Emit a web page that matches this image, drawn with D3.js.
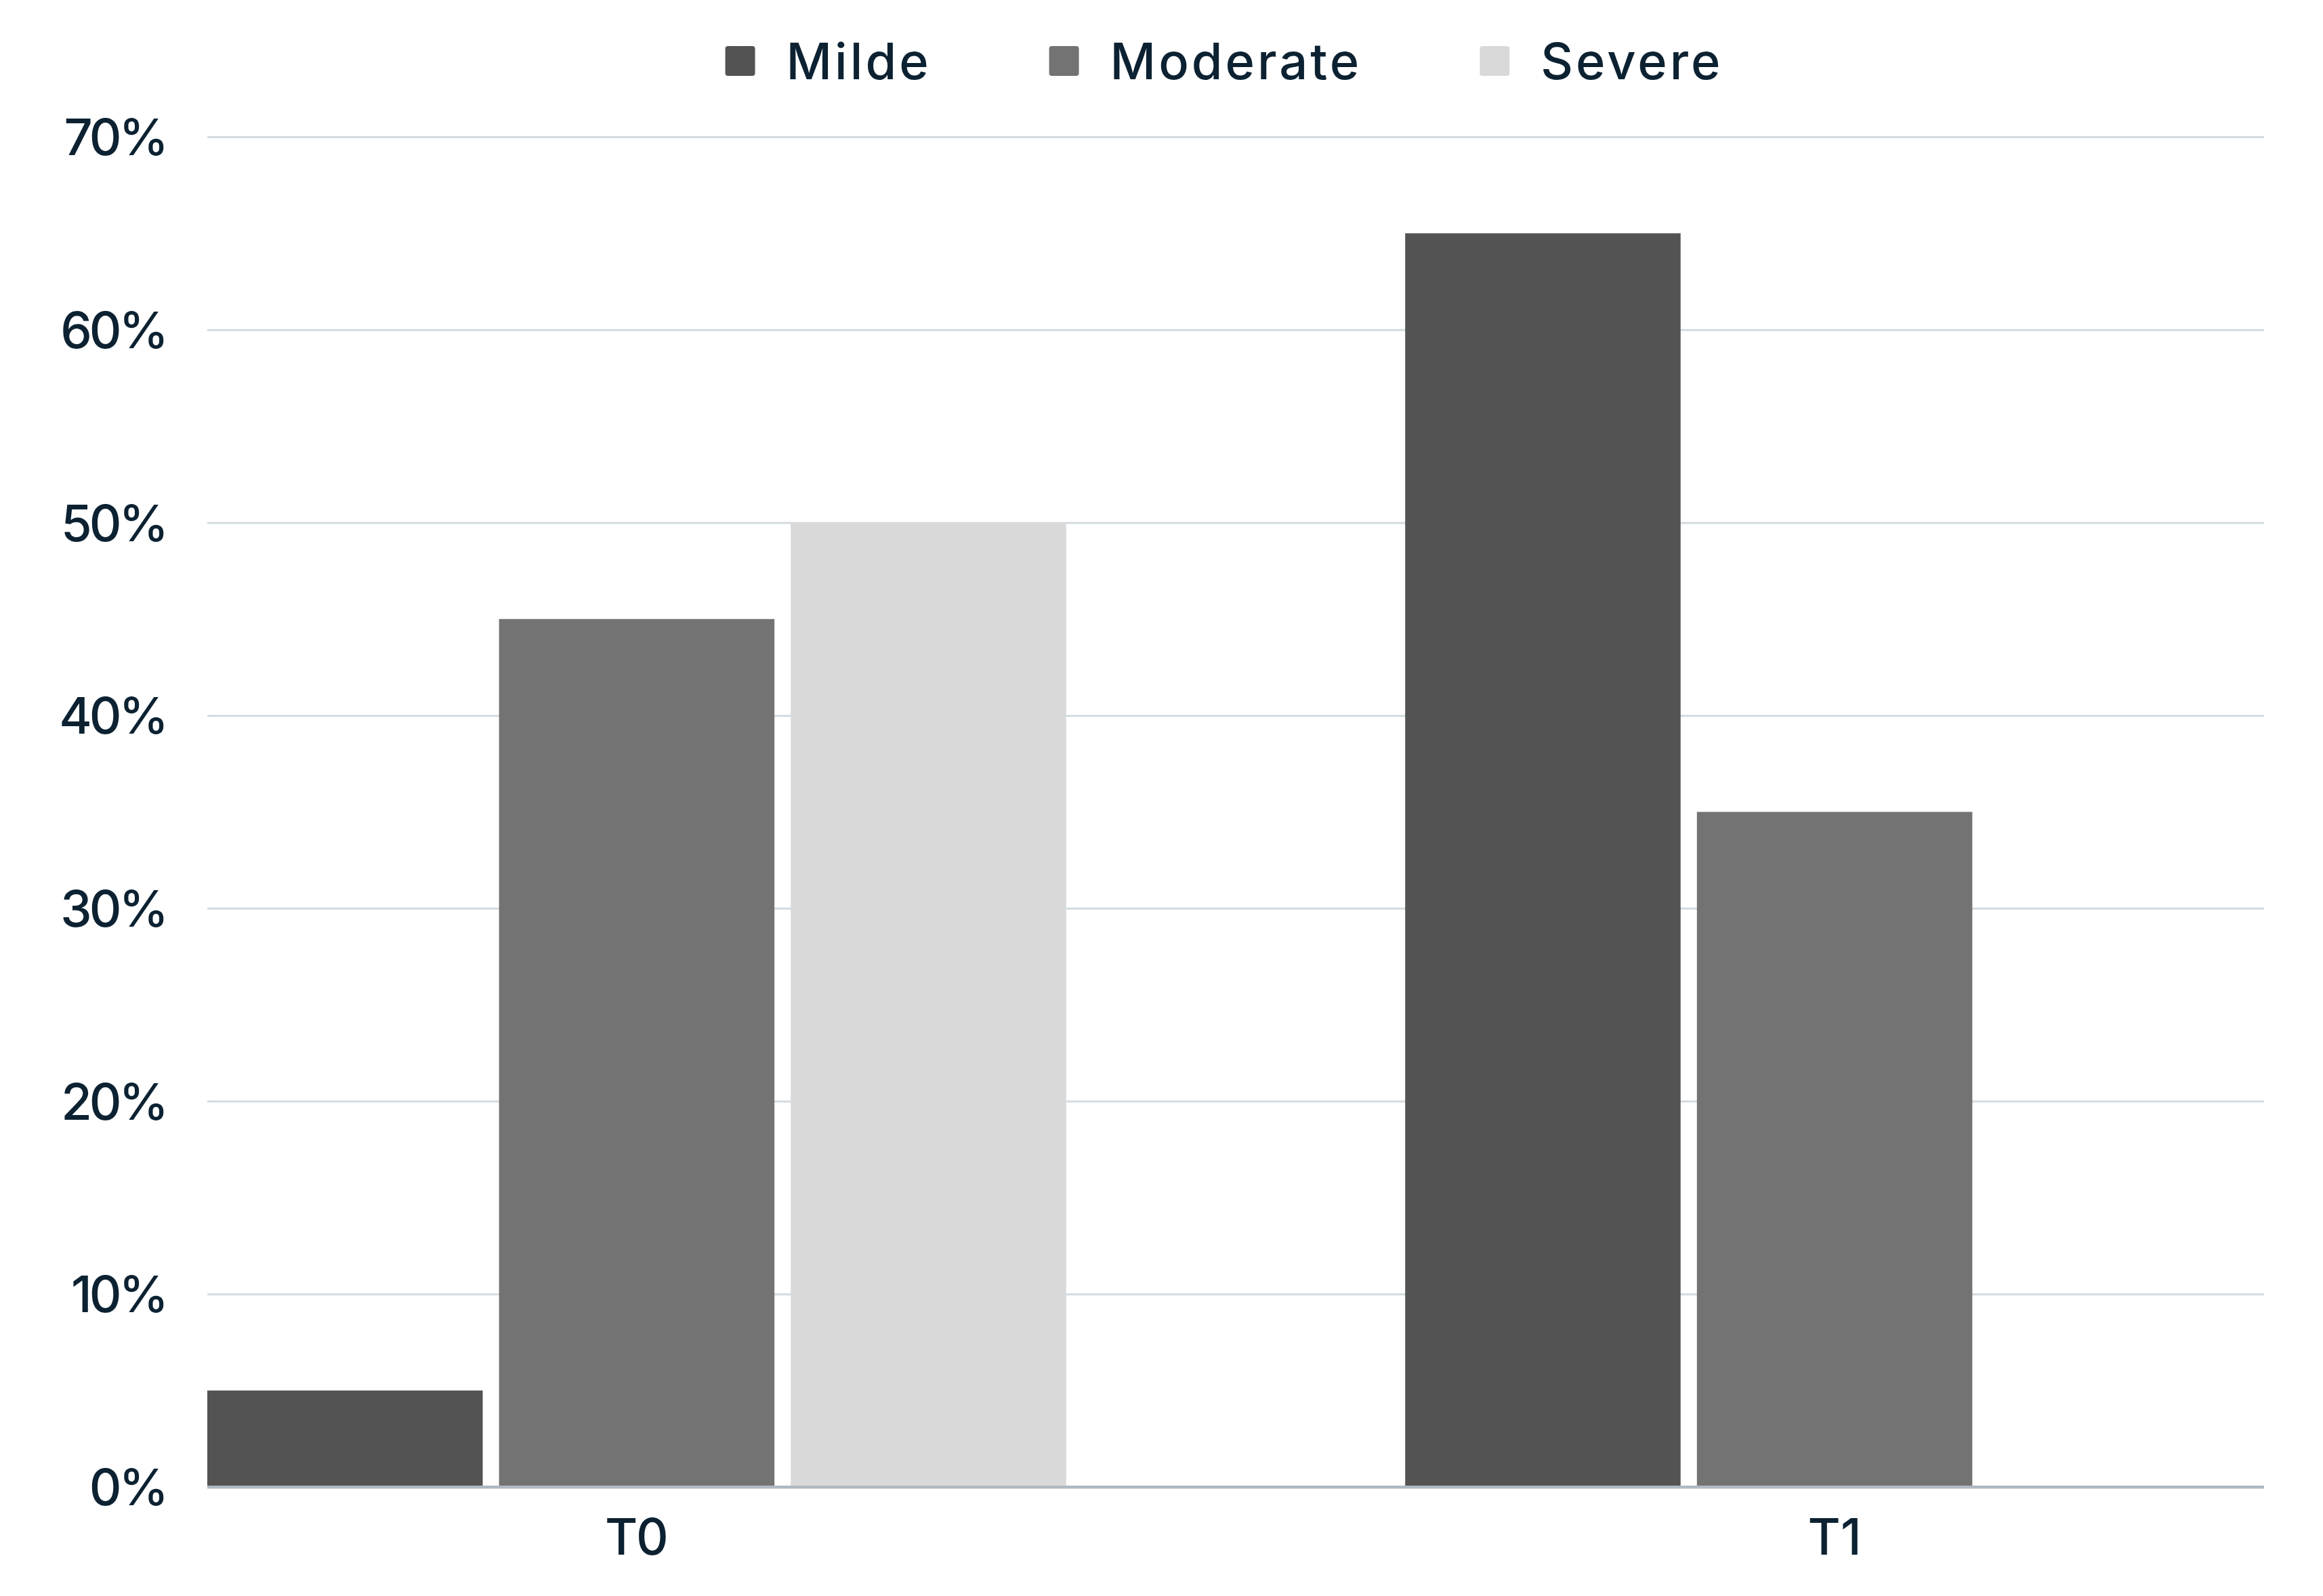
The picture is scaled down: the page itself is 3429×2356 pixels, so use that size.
<!DOCTYPE html>
<html>
<head>
<meta charset="utf-8">
<script src="https://cdn.jsdelivr.net/npm/d3@7"></script>
<style>
  html, body { margin: 0; padding: 0; background: #ffffff; }
  svg { display: block; }
  text { font-family: "Inter", "Open Sans", sans-serif; }
</style>
</head>
<body>
<svg id="chart" width="3429" height="2356"></svg>
<script>
// ---- data ----
const categories = ["T0", "T1"];
const seriesNames = ["Milde", "Moderate", "Severe"];
const milde = [5, 65];
const moderate = [45, 35];
const severe = [50, 0];
const yTicks = [0, 10, 20, 30, 40, 50, 60, 70];
const seriesColors = ["#535353", "#737373", "#d9d9d9"];

const seriesValues = [milde, moderate, severe];
const rows = categories.map((c, i) => ({
  cat: c,
  vals: seriesNames.map((s, j) => ({ series: s, value: seriesValues[j][i], idx: j }))
}));

// ---- layout ----
const plotLeft = 306, plotRight = 3342, plotTop = 202, plotBottom = 2195;
const textColor = "#0c2232";
const fontSize = 74;

const svg = d3.select("#chart");

const x0 = d3.scaleBand().domain(categories).range([plotLeft, plotRight])
  .paddingInner(0.283).paddingOuter(0);
const x1 = d3.scaleBand().domain(seriesNames).range([0, x0.bandwidth()])
  .paddingInner(0.056).paddingOuter(0);
const y = d3.scaleLinear().domain([0, 70]).range([plotBottom, plotTop]);
const color = d3.scaleOrdinal().domain(seriesNames).range(seriesColors);

// gridlines
const yAxis = d3.axisLeft(y).tickValues(yTicks).tickFormat(d => d + "%")
  .tickSize(-(plotRight - plotLeft)).tickPadding(61);
const gy = svg.append("g").attr("transform", `translate(${plotLeft},0)`).call(yAxis);
gy.select(".domain").remove();
gy.selectAll(".tick line")
  .attr("stroke", d => d === 0 ? "#aeb9c2" : "#d3dbe0")
  .attr("stroke-width", d => d === 0 ? 4 : 3);
gy.selectAll(".tick text")
  .attr("fill", textColor)
  .style("font-size", fontSize + "px")
  .style("font-weight", 500)
  .style("letter-spacing", "-4px")
  .attr("dy", "0.36em");

// bars
const groups = svg.append("g").selectAll("g").data(rows).join("g")
  .attr("transform", d => `translate(${x0(d.cat)},0)`);
groups.selectAll("rect").data(d => d.vals.filter(v => v.value > 0)).join("rect")
  .attr("x", d => x1(d.series))
  .attr("width", x1.bandwidth())
  .attr("y", d => y(d.value))
  .attr("height", d => y(0) - y(d.value))
  .attr("fill", d => color(d.series));

// redraw baseline on top
svg.append("line")
  .attr("x1", plotLeft).attr("x2", plotRight)
  .attr("y1", y(0)).attr("y2", y(0))
  .attr("stroke", "#aeb9c2").attr("stroke-width", 4);

// x axis labels
const xAxis = d3.axisBottom(x0).tickSize(0).tickPadding(0);
const gx = svg.append("g").attr("transform", `translate(0,${plotBottom})`).call(xAxis);
gx.select(".domain").remove();
gx.selectAll(".tick text")
  .attr("fill", textColor)
  .style("font-size", fontSize + "px")
  .style("font-weight", 500)
  .attr("y", 73)
  .attr("dy", "0.36em");

// legend
const legend = svg.append("g");
const legendY = 90, sq = 44, gapText = 46, gapItem = 174;
const items = legend.selectAll("g").data(seriesNames).join("g");
items.append("rect")
  .attr("width", sq).attr("height", sq).attr("rx", 4)
  .attr("y", legendY - sq / 2)
  .attr("fill", d => color(d));
items.append("text")
  .attr("x", sq + gapText)
  .attr("y", legendY)
  .attr("dy", "0.36em")
  .attr("fill", textColor)
  .style("font-size", fontSize + "px")
  .style("font-weight", 500)
  .style("letter-spacing", "4px")
  .text(d => d);
const widths = [];
items.each(function() {
  widths.push(sq + gapText + this.querySelector("text").getComputedTextLength());
});
const total = d3.sum(widths) + gapItem * (widths.length - 1);
let startX = 1807 - total / 2;
items.attr("transform", (d, i) => {
  const tx = startX;
  startX += widths[i] + gapItem;
  return `translate(${tx},0)`;
});
</script>
</body>
</html>
